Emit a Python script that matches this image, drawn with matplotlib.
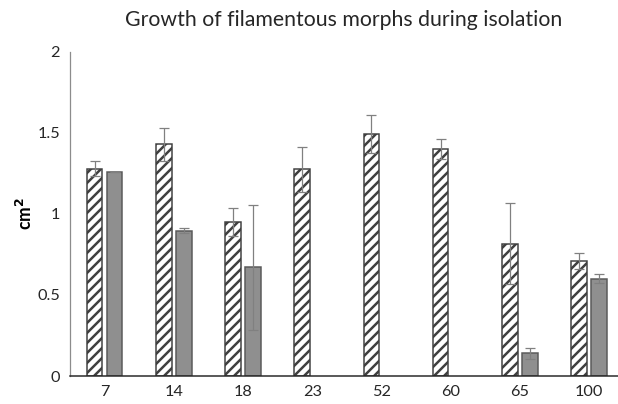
import matplotlib
matplotlib.use("Agg")
import matplotlib.pyplot as plt
import numpy as np

categories = ["7", "14", "18", "23", "52", "60", "65", "100"]
hatched_vals = [1.28, 1.43, 0.95, 1.275, 1.494, 1.40, 0.815, 0.71]
hatched_err = [0.045, 0.10, 0.085, 0.14, 0.117, 0.06, 0.25, 0.05]
gray_vals = [1.26, 0.897, 0.67, 0, 0, 0, 0.14, 0.60]
gray_err = [0, 0.015, 0.385, 0, 0, 0, 0.035, 0.028]
yticks = [0, 0.5, 1, 1.5, 2]
ytick_labels = ["0", "0.5", "1", "1.5", "2"]

DPI = 90
W, H = 618, 404
plt.rcParams['font.family'] = ['Lato', 'DejaVu Sans']
plt.rcParams['hatch.linewidth'] = 2.0

fig = plt.figure(figsize=(W / DPI, H / DPI), dpi=DPI)
ax = fig.add_axes([70 / W, (H - 376) / H, (W - 70) / W, (376 - 52) / H])

x = np.arange(len(categories))
bw = 0.225
off = 0.1445
err_kw = dict(ecolor='#808080', elinewidth=1.0, capsize=4, capthick=1.0)

ax.bar(x - off, hatched_vals, bw, color='white', edgecolor='#404040',
       linewidth=1.2, hatch='///', yerr=hatched_err, error_kw=err_kw, zorder=2)
gmask = [i for i, v in enumerate(gray_vals) if v > 0]
ax.bar(x[gmask] + off, [gray_vals[i] for i in gmask], bw, color='#8f8f8f',
       edgecolor='#595959', linewidth=1.2,
       yerr=[[gray_err[i] for i in gmask], [gray_err[i] for i in gmask]],
       error_kw=err_kw, zorder=2)

ax.set_xlim(-0.5, 7.5 - (623.6 - 618) / 69.2)
ax.set_ylim(0, 2)
ax.set_xticks(x)
ax.set_xticklabels(categories)
ax.set_yticks(yticks)
ax.set_yticklabels(ytick_labels)
ax.tick_params(axis='both', length=0, labelsize=13, colors='#262626')
ax.tick_params(axis='x', pad=7)
ax.tick_params(axis='y', pad=8)

for s in ['top', 'right']:
    ax.spines[s].set_visible(False)
ax.spines['left'].set_color('#8c8c8c')
ax.spines['left'].set_linewidth(1.0)
ax.spines['bottom'].set_color('#262626')
ax.spines['bottom'].set_linewidth(1.2)

ax.set_ylabel("cm$^\\mathbf{2}$", fontsize=14, fontweight='bold')
ax.yaxis.set_label_coords((35 - 70) / (W - 70), 0.5)
fig.text(344 / W, 1 - 20 / H, "Growth of filamentous morphs during isolation",
         ha='center', va='center', fontsize=17, color='#262626')

fig.savefig("out.png", dpi=DPI)
